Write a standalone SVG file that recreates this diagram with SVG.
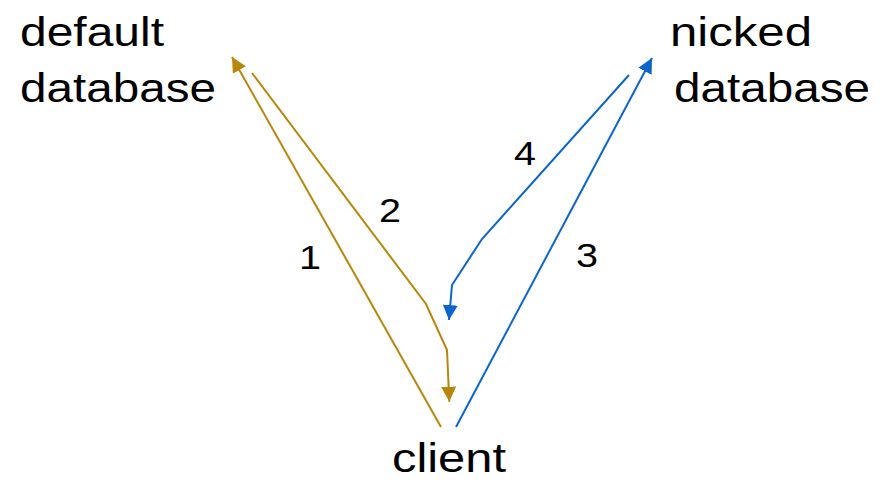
<svg xmlns="http://www.w3.org/2000/svg" width="880" height="481" viewBox="0 0 880 481">
  <defs>
    <style>
      .lbl { font-family: "Liberation Sans", Arial, Helvetica, sans-serif; font-size: 41px; fill: #000; }
      .num { font-family: "Liberation Sans", Arial, Helvetica, sans-serif; font-size: 34px; fill: #000; text-anchor: middle; }
      .gold { fill: none; stroke: #b8860b; stroke-width: 2; }
      .blue { fill: none; stroke: #0a66cc; stroke-width: 2; }
    </style>
    <marker id="ahGold" markerUnits="userSpaceOnUse" markerWidth="16" markerHeight="16" refX="15" refY="7.5" orient="auto" viewBox="0 0 16 16">
      <path d="M0,0 L15,7.5 L0,15 z" fill="#b8860b"/>
    </marker>
    <marker id="ahBlue" markerUnits="userSpaceOnUse" markerWidth="16" markerHeight="16" refX="15" refY="7.5" orient="auto" viewBox="0 0 16 16">
      <path d="M0,0 L15,7.5 L0,15 z" fill="#0a66cc"/>
    </marker>
  </defs>
  <rect width="880" height="481" fill="#ffffff"/>

  <g id="default-database">
    <text class="lbl" x="20" y="46" textLength="144" lengthAdjust="spacingAndGlyphs">default</text>
    <text class="lbl" x="20" y="102" textLength="196" lengthAdjust="spacingAndGlyphs">database</text>
  </g>
  <g id="nicked-database">
    <text class="lbl" x="670" y="46" textLength="142" lengthAdjust="spacingAndGlyphs">nicked</text>
    <text class="lbl" x="674" y="102" textLength="196" lengthAdjust="spacingAndGlyphs">database</text>
  </g>
  <g id="client">
    <text class="lbl" x="392" y="472" textLength="114" lengthAdjust="spacingAndGlyphs">client</text>
  </g>

  <g id="connectors">
    <path id="e1" class="gold" d="M441,427 L232,57" marker-end="url(#ahGold)"/>
    <path id="e2" class="gold" d="M252,73 L426,304 L447,350 L449.3,401.7" marker-end="url(#ahGold)"/>
    <path id="e3" class="blue" d="M456,427 L652,58" marker-end="url(#ahBlue)"/>
    <path id="e4" class="blue" d="M629,75 L482,239 L452,285 L449,320" marker-end="url(#ahBlue)"/>
    <text class="num" x="310" y="269" textLength="22" lengthAdjust="spacingAndGlyphs">1</text>
    <text class="num" x="390" y="222" textLength="22" lengthAdjust="spacingAndGlyphs">2</text>
    <text class="num" x="587" y="267" textLength="22" lengthAdjust="spacingAndGlyphs">3</text>
    <text class="num" x="525" y="165" textLength="22" lengthAdjust="spacingAndGlyphs">4</text>
  </g>
</svg>
